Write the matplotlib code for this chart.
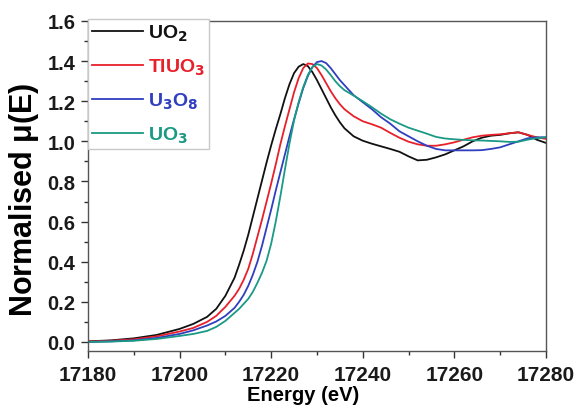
import matplotlib
matplotlib.use("Agg")
import matplotlib.pyplot as plt
from matplotlib.ticker import MultipleLocator, FormatStrFormatter

plt.rcParams['font.family'] = ['Liberation Sans', 'DejaVu Sans']
plt.rcParams['mathtext.default'] = 'bf'

energy = [17180, 17185, 17190, 17195, 17200, 17203, 17206, 17208, 17210, 17212,
          17213, 17214, 17215, 17216, 17217, 17218, 17219, 17220, 17221, 17222,
          17223, 17224, 17225, 17226, 17227, 17228, 17229, 17230, 17231, 17232,
          17233, 17234, 17235, 17236, 17238, 17240, 17242, 17244, 17246, 17248,
          17250, 17252, 17254, 17256, 17258, 17260, 17262, 17264, 17266, 17268,
          17270, 17272, 17274, 17276, 17278, 17280]

uo2 = [0.003, 0.008, 0.018, 0.035, 0.065, 0.090, 0.125, 0.165, 0.230, 0.320,
       0.385, 0.455, 0.535, 0.625, 0.715, 0.805, 0.895, 0.980, 1.060, 1.135,
       1.215, 1.285, 1.340, 1.372, 1.385, 1.375, 1.345, 1.305, 1.260, 1.215,
       1.170, 1.130, 1.095, 1.065, 1.025, 1.003, 0.988, 0.975, 0.962, 0.948,
       0.925, 0.905, 0.908, 0.920, 0.935, 0.955, 0.975, 1.000, 1.018, 1.028,
       1.032, 1.040, 1.045, 1.032, 1.008, 0.992]

tluo3 = [0.002, 0.006, 0.013, 0.028, 0.052, 0.070, 0.100, 0.130, 0.175, 0.230,
         0.265, 0.310, 0.365, 0.440, 0.525, 0.610, 0.700, 0.790, 0.885, 0.985,
         1.075, 1.160, 1.245, 1.315, 1.365, 1.388, 1.385, 1.365, 1.330, 1.290,
         1.250, 1.215, 1.185, 1.160, 1.125, 1.100, 1.085, 1.068, 1.042, 1.018,
         0.998, 0.985, 0.978, 0.978, 0.985, 0.995, 1.008, 1.020, 1.028, 1.032,
         1.035, 1.040, 1.045, 1.032, 1.020, 1.012]

u3o8 = [0.000, 0.003, 0.008, 0.020, 0.040, 0.058, 0.082, 0.102, 0.130, 0.170,
        0.200, 0.235, 0.280, 0.335, 0.400, 0.480, 0.570, 0.660, 0.755, 0.845,
        0.935, 1.025, 1.110, 1.190, 1.265, 1.325, 1.370, 1.395, 1.400, 1.390,
        1.365, 1.335, 1.305, 1.280, 1.230, 1.195, 1.160, 1.120, 1.088, 1.050,
        1.025, 1.000, 0.978, 0.962, 0.955, 0.955, 0.955, 0.955, 0.956, 0.962,
        0.970, 0.985, 1.000, 1.015, 1.020, 1.020]

uo3 = [0.000, 0.002, 0.006, 0.015, 0.030, 0.040, 0.055, 0.075, 0.105, 0.145,
       0.165, 0.190, 0.215, 0.250, 0.295, 0.345, 0.405, 0.490, 0.600, 0.725,
       0.860, 0.990, 1.105, 1.195, 1.270, 1.330, 1.370, 1.385, 1.378, 1.358,
       1.330, 1.300, 1.275, 1.255, 1.228, 1.200, 1.170, 1.138, 1.110, 1.088,
       1.068, 1.053, 1.038, 1.022, 1.014, 1.010, 1.007, 1.005, 1.004, 1.002,
       1.000, 0.997, 0.998, 1.008, 1.016, 1.020]

labels = ['UO$_\\mathbf{2}$', 'TIUO$_\\mathbf{3}$', 'U$_\\mathbf{3}$O$_\\mathbf{8}$', 'UO$_\\mathbf{3}$']
colors = ['#111111', '#e8202a', '#2f3fbf', '#1a9985']
series = [uo2, tluo3, u3o8, uo3]

fig = plt.figure(figsize=(5.76, 4.10), dpi=100)
ax = fig.add_axes([0.1528, 0.1415, 0.795, 0.805])

for ys, c, lab in zip(series, colors, labels):
    ax.plot(energy, ys, color=c, lw=1.3, label=lab)

ax.set_xlim(17180, 17280)
ax.set_ylim(-0.045, 1.6)
ax.xaxis.set_major_locator(MultipleLocator(20))
ax.xaxis.set_minor_locator(MultipleLocator(10))
ax.yaxis.set_major_locator(MultipleLocator(0.2))
ax.yaxis.set_minor_locator(MultipleLocator(0.1))
ax.yaxis.set_major_formatter(FormatStrFormatter('%.1f'))
ax.tick_params(axis='both', which='major', direction='out', length=5, width=1,
               colors='#333333', labelcolor='#1a1a1a')
ax.tick_params(axis='x', which='major', labelsize=15, pad=5)
ax.tick_params(axis='y', which='major', labelsize=14.5, pad=4)
ax.tick_params(axis='both', which='minor', direction='out', length=3, width=1, colors='#333333')
ax.tick_params(top=False, right=False, which='both')
for lab in ax.get_xticklabels() + ax.get_yticklabels():
    lab.set_fontweight('bold')
for s in ax.spines.values():
    s.set_color('#555555')
    s.set_linewidth(1.0)

ax.set_ylabel('Normalised $\\mathregular{\\mu}$(E)', fontsize=22, fontweight='bold',
              va='center')
ax.yaxis.set_label_coords(-0.14, 0.46)
ax.set_xlabel('Energy (eV)', fontsize=14.5, fontweight='bold')
ax.xaxis.set_label_coords(0.47, -0.103)

leg = ax.legend(loc='upper left', bbox_to_anchor=(0.0, 1.006), borderaxespad=0,
                frameon=True, fancybox=False, edgecolor='#c8c8c8', framealpha=1,
                handlelength=2.65, handletextpad=0.25, labelspacing=0.7, borderpad=0.2,
                prop={'size': 14, 'weight': 'bold'})
for t, c in zip(leg.get_texts(), colors):
    t.set_color(c)
leg.get_frame().set_linewidth(1.0)

fig.savefig('out.png', dpi=100)
